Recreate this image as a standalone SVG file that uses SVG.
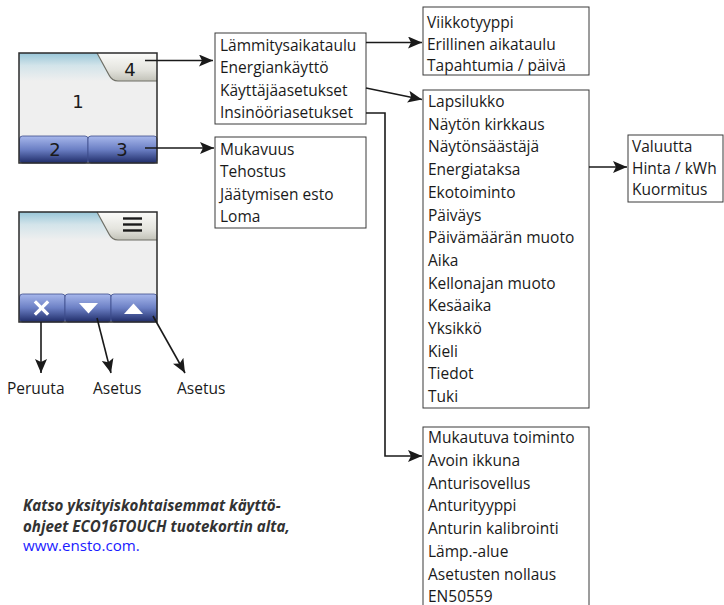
<svg xmlns="http://www.w3.org/2000/svg" width="724" height="605" viewBox="0 0 724 605">
  <style>
    .box { fill: #ffffff; stroke: #3a3a3a; stroke-width: 1; }
    .item { font-family: "Open Sans", "Liberation Sans", sans-serif; font-size: 15.5px; fill: #1a1a1a; }
    .digit { font-family: "DejaVu Sans", "Liberation Sans", sans-serif; font-size: 18px; fill: #1a1a1a; text-anchor: middle; }
    .wire { fill: none; stroke: #1a1a1a; stroke-width: 1.6; }
    .note { font-family: "Open Sans", "Liberation Sans", sans-serif; font-size: 15.1px; font-style: italic; font-weight: bold; fill: #333333; }
    .link { font-family: "Open Sans", "Liberation Sans", sans-serif; font-size: 15.1px; fill: #1a1aff; }
    .frame { fill: none; stroke: #2b2b2b; stroke-width: 1.5; }
    .tabline { fill: none; stroke: #6f6f66; stroke-width: 1.2; }
  </style>
  <defs>
    <marker id="arrow" markerUnits="userSpaceOnUse" markerWidth="15" markerHeight="12" refX="14" refY="6" orient="auto">
      <path d="M0,0 L14,6 L0,12 L3,6 z" fill="#1a1a1a"/>
    </marker>
    <linearGradient id="sky" x1="0" y1="0" x2="0" y2="1">
      <stop offset="0" stop-color="#98c6d8"/>
      <stop offset="0.45" stop-color="#d3e4ea"/>
      <stop offset="1" stop-color="#efefef"/>
    </linearGradient>
    <linearGradient id="tab" x1="0" y1="0" x2="0" y2="1">
      <stop offset="0" stop-color="#fbfbf9"/>
      <stop offset="0.6" stop-color="#e4e4de"/>
      <stop offset="1" stop-color="#c2c2b8"/>
    </linearGradient>
    <linearGradient id="key" x1="0" y1="0" x2="0" y2="1">
      <stop offset="0" stop-color="#a8b8ec"/>
      <stop offset="0.5" stop-color="#6b7fc4"/>
      <stop offset="1" stop-color="#1f2c68"/>
    </linearGradient>
  </defs>

  <!-- thermostat display with numbered zones -->
  <g id="display-numbered">
    <rect x="19" y="53" width="138" height="110" fill="#efefef"/>
    <rect x="19" y="53" width="138" height="28" fill="url(#sky)"/>
    <path d="M97,53 L157,53 L157,81 L118,81 Q112,81 109,75 Z" fill="url(#tab)"/>
    <path d="M97,53 L109,75 Q112,81 118,81 L157,81" class="tabline"/>
    <rect x="19.5" y="136" width="68.5" height="27" rx="3" fill="url(#key)" stroke="#3d4c8c" stroke-width="0.8"/>
    <rect x="88" y="136" width="69" height="27" rx="3" fill="url(#key)" stroke="#3d4c8c" stroke-width="0.8"/>
    <rect x="19" y="53" width="138" height="110" class="frame"/>
    <text class="digit" x="78" y="108">1</text>
    <text class="digit" x="55" y="156">2</text>
    <text class="digit" x="122" y="156">3</text>
    <text class="digit" x="130" y="76">4</text>
  </g>

  <!-- thermostat display with icons -->
  <g id="display-icons">
    <rect x="19" y="212" width="138" height="110" fill="#efefef"/>
    <rect x="19" y="212" width="138" height="28" fill="url(#sky)"/>
    <path d="M97,212 L157,212 L157,240 L118,240 Q112,240 109,234 Z" fill="url(#tab)"/>
    <path d="M97,212 L109,234 Q112,240 118,240 L157,240" class="tabline"/>
    <g stroke="#1a1a1a" stroke-width="2.4">
      <line x1="123" y1="218.5" x2="142" y2="218.5"/>
      <line x1="123" y1="224.5" x2="142" y2="224.5"/>
      <line x1="123" y1="230.5" x2="142" y2="230.5"/>
    </g>
    <rect x="19.5" y="294" width="45.5" height="28" rx="3" fill="url(#key)" stroke="#3d4c8c" stroke-width="0.8"/>
    <rect x="65" y="294" width="46" height="28" rx="3" fill="url(#key)" stroke="#3d4c8c" stroke-width="0.8"/>
    <rect x="111" y="294" width="46" height="28" rx="3" fill="url(#key)" stroke="#3d4c8c" stroke-width="0.8"/>
    <g stroke="#ffffff" stroke-width="3.2" stroke-linecap="square">
      <line x1="36" y1="302.5" x2="47" y2="313.5"/>
      <line x1="47" y1="302.5" x2="36" y2="313.5"/>
    </g>
    <path d="M79,303 L98,303 L88.5,313.5 Z" fill="#ffffff"/>
    <path d="M124,314 L143,314 L133.5,303.5 Z" fill="#ffffff"/>
    <rect x="19" y="212" width="138" height="110" class="frame"/>
  </g>

  <g id="labels-buttons" class="item">
    <text x="7" y="394">Peruuta</text>
    <text x="93" y="394">Asetus</text>
    <text x="177" y="394">Asetus</text>
  </g>

  <!-- main menu -->
  <g id="menu-main">
    <rect x="215" y="33" width="151" height="91" class="box"/>
    <text class="item" x="220" y="51">Lämmitysaikataulu</text>
    <text class="item" x="220" y="73">Energiankäyttö</text>
    <text class="item" x="220" y="96">Käyttäjäasetukset</text>
    <text class="item" x="220" y="118">Insinööriasetukset</text>
  </g>

  <!-- modes menu -->
  <g id="menu-modes">
    <rect x="215" y="137" width="151" height="91" class="box"/>
    <text class="item" x="220" y="155">Mukavuus</text>
    <text class="item" x="220" y="177">Tehostus</text>
    <text class="item" x="220" y="200">Jäätymisen esto</text>
    <text class="item" x="220" y="222">Loma</text>
  </g>

  <!-- heating schedule submenu -->
  <g id="menu-schedule">
    <rect x="423" y="7" width="166" height="68" class="box"/>
    <text class="item" x="427" y="28">Viikkotyyppi</text>
    <text class="item" x="427" y="49.5">Erillinen aikataulu</text>
    <text class="item" x="427" y="71">Tapahtumia / päivä</text>
  </g>

  <!-- user settings submenu -->
  <g id="menu-user">
    <rect x="423" y="90" width="166" height="318" class="box"/>
    <g class="item">
      <text x="428" y="107">Lapsilukko</text>
      <text x="428" y="129.7">Näytön kirkkaus</text>
      <text x="428" y="152.4">Näytönsäästäjä</text>
      <text x="428" y="175.1">Energiataksa</text>
      <text x="428" y="197.8">Ekotoiminto</text>
      <text x="428" y="220.5">Päiväys</text>
      <text x="428" y="243.2">Päivämäärän muoto</text>
      <text x="428" y="265.9">Aika</text>
      <text x="428" y="288.6">Kellonajan muoto</text>
      <text x="428" y="311.3">Kesäaika</text>
      <text x="428" y="334">Yksikkö</text>
      <text x="428" y="356.7">Kieli</text>
      <text x="428" y="379.4">Tiedot</text>
      <text x="428" y="402.1">Tuki</text>
    </g>
  </g>

  <!-- energy tariff submenu -->
  <g id="menu-tariff">
    <rect x="628" y="135" width="95" height="67" class="box"/>
    <text class="item" x="632" y="152">Valuutta</text>
    <text class="item" x="632" y="173.5">Hinta / kWh</text>
    <text class="item" x="632" y="195">Kuormitus</text>
  </g>

  <!-- engineer settings submenu -->
  <g id="menu-engineer">
    <rect x="423" y="427" width="166" height="185" class="box"/>
    <g class="item">
      <text x="428" y="443">Mukautuva toiminto</text>
      <text x="428" y="465.8">Avoin ikkuna</text>
      <text x="428" y="488.6">Anturisovellus</text>
      <text x="428" y="511.4">Anturityyppi</text>
      <text x="428" y="534.2">Anturin kalibrointi</text>
      <text x="428" y="557">Lämp.-alue</text>
      <text x="428" y="579.8">Asetusten nollaus</text>
      <text x="428" y="601.5">EN50559</text>
    </g>
  </g>

  <!-- connectors -->
  <g id="connectors" class="wire">
    <line x1="145" y1="60.5" x2="213" y2="60.5" marker-end="url(#arrow)"/>
    <line x1="145" y1="148" x2="214" y2="148" marker-end="url(#arrow)"/>
    <line x1="366" y1="42.5" x2="422" y2="42.5" marker-end="url(#arrow)"/>
    <line x1="366" y1="88" x2="422" y2="99.5" marker-end="url(#arrow)"/>
    <polyline points="366,113 385,113 385,456 422,456" marker-end="url(#arrow)"/>
    <line x1="589" y1="167" x2="627" y2="167" marker-end="url(#arrow)"/>
    <line x1="41" y1="322" x2="41" y2="373" marker-end="url(#arrow)"/>
    <line x1="97" y1="318" x2="111" y2="373" marker-end="url(#arrow)"/>
    <line x1="153" y1="316" x2="185" y2="373" marker-end="url(#arrow)"/>
  </g>

  <!-- reference note -->
  <g id="note">
    <text class="note" x="23" y="511">Katso yksityiskohtaisemmat käyttö-</text>
    <text class="note" x="23" y="532">ohjeet ECO16TOUCH tuotekortin alta,</text>
    <text class="link" x="23" y="551">www.ensto.com.</text>
  </g>
</svg>
